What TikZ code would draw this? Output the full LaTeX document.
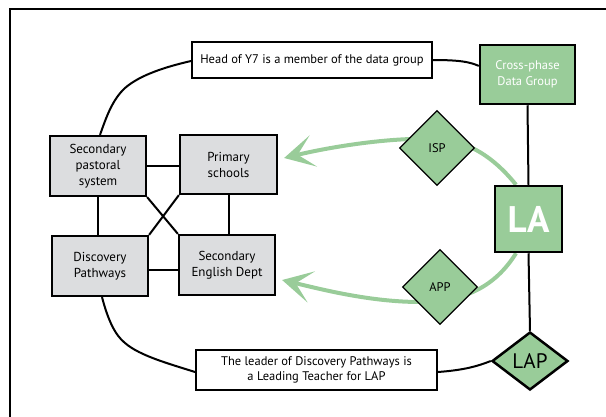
\documentclass[tikz,border=0pt]{standalone}
\usepackage{fontspec}
\setmainfont{PT Sans}
\usetikzlibrary{arrows.meta,shapes.geometric}
\definecolor{lgreen}{RGB}{153,204,153}
\definecolor{lgray}{RGB}{220,221,223}
\pgfdeclarelayer{background}
\pgfsetlayers{background,main}
\tikzset{
  graybox/.style={draw, line width=2.2pt, fill=lgray, minimum width=96pt, minimum height=60pt, align=center, inner sep=2pt, font=\fontsize{13}{16}\selectfont},
  textbox/.style={draw, line width=2pt, fill=white, align=center, inner sep=2pt, font=\fontsize{12.5}{15}\selectfont},
  greenbox/.style={draw, line width=2.5pt, fill=lgreen, text=white, align=center, inner sep=2pt},
  gdiamond/.style={draw, diamond, fill=lgreen, inner sep=0pt, aspect=1},
  conn/.style={line width=2pt},
  garrow/.style={line width=4pt, draw=lgreen, -{Stealth[length=30pt,width=32pt,inset=16pt]}},
}
\begin{document}
\begin{tikzpicture}[x=1pt,y=-1pt]
\useasboundingbox (0,0) rectangle (606,416);
\begin{scope}
\clip (0,0) rectangle (606,416);
\draw[line width=2pt] (10,9) rectangle (640,450);
\end{scope}

\node[graybox] (SPS) at (98,166) {Secondary\\pastoral\\system};
\node[graybox, minimum width=97pt, minimum height=59pt] (PS) at (228.5,164.5) {Primary\\schools};
\node[graybox] (DP) at (100,266) {Discovery\\Pathways};
\node[graybox] (SED) at (227,265) {Secondary\\English Dept};

\node[textbox, minimum width=240pt, minimum height=36pt] (Head) at (312,60) {Head of Y7 is a member of the data group};
\node[greenbox, minimum width=95pt, minimum height=59pt, font=\fontsize{12.5}{16}\selectfont] (Cross) at (527.5,74.5) {Cross-phase\\Data Group};
\node[greenbox, minimum width=67pt, minimum height=66pt, font=\fontsize{37}{37}\selectfont\bfseries] (LA) at (528.5,219) {LA};
\node[gdiamond, line width=1.2pt, minimum width=75pt, minimum height=75pt, font=\fontsize{12.5}{14}\selectfont] (ISP) at (437,148) {ISP};
\node[gdiamond, line width=1.2pt, minimum width=75pt, minimum height=75pt, font=\fontsize{12.5}{14}\selectfont] (APP) at (440,287) {APP};
\node[gdiamond, line width=2.5pt, minimum width=76pt, minimum height=58pt, font=\fontsize{21}{21}\selectfont] (LAP) at (530,361) {LAP};
\node[textbox, minimum width=241pt, minimum height=40pt] (Leader) at (316.5,370) {The leader of Discovery Pathways is\\a Leading Teacher for LAP};

\begin{pgfonlayer}{background}
\draw[garrow] (LA.110) .. controls (500,165) and (475,141) .. (437,139) .. controls (390,137) and (330,147) .. ([xshift=6pt,yshift=6.5pt]PS.east);
\draw[garrow] (LA.250) .. controls (498,282) and (470,302) .. (420,302) .. controls (370,302) and (320,289) .. ([xshift=6pt,yshift=-15pt]SED.east);
\end{pgfonlayer}

\draw[conn] (SPS.east) -- (SPS.east -| PS.west);
\draw[conn] (SPS.south) -- (SPS.south |- DP.north);
\draw[conn] (PS.south) -- (PS.south |- SED.north);
\draw[conn] ([yshift=-4pt]DP.east) -- ([yshift=-4pt]DP.east -| SED.west);
\draw[conn] (SPS.south east) -- (SED.north west);
\draw[conn] (PS.south west) -- (DP.north east);

\draw[conn] ([xshift=2pt]SPS.north) .. controls (106,118) and (112,100) .. (125,88) .. controls (140,75) and (165,67) .. ([yshift=-1pt]Head.west);
\draw[conn] (Head.east) .. controls (460,60) and (470,62) .. (Cross.170);
\draw[conn] (Cross.south) -- (LA.north);
\draw[conn] (LA.south) -- (LAP.north);
\draw[conn] ([xshift=2pt]DP.south) .. controls (108,320) and (115,335) .. (125,343) .. controls (140,356) and (170,364) .. ([yshift=-2pt]Leader.west);
\draw[conn] ([yshift=-2pt]Leader.east) .. controls (465,370) and (478,366) .. (LAP.west);
\end{tikzpicture}
\end{document}
